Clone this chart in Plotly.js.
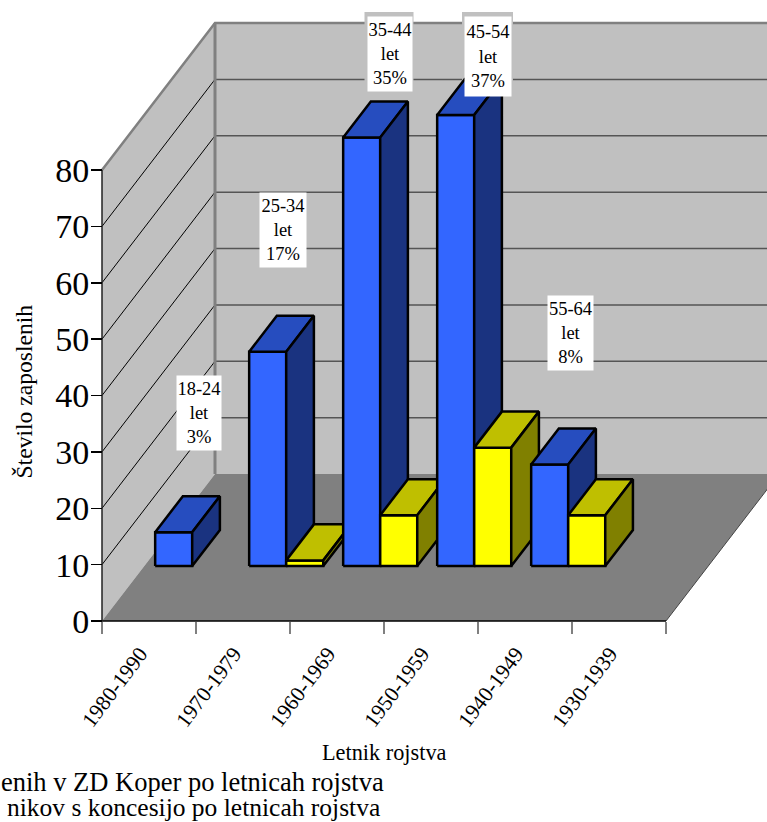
<!DOCTYPE html>
<html><head><meta charset="utf-8">
<script src="https://cdn.plot.ly/plotly-3.0.1.min.js"></script>
<style>html,body{margin:0;padding:0;background:#fff;overflow:hidden}</style>
</head><body><div id="chart" style="width:767px;height:822px"></div>
<script>
const categories = ['1980-1990','1970-1979','1960-1969','1950-1959','1940-1949','1930-1939'];
const staffZD = [6, 38, 76, 80, 18, 0];
const staffConcession = [0, 1, 9, 21, 9, 0];
const yTicks = [0,10,20,30,40,50,60,70,80];
const ageLabels = ['18-24<br>let<br>3%','25-34<br>let<br>17%','35-44<br>let<br>35%','45-54<br>let<br>37%','55-64<br>let<br>8%'];
const labelCentrePx = [[198.5,413],[283,230],[389.5,54],[488,56.5],[570.5,333]];
const labelSizePx = [[44,74],[46,74],[44,74],[46,79],[45,74]];
const legendLines = ['enih v ZD Koper po letnicah rojstva','nikov s koncesijo po letnicah rojstva'];
const legendEndPx = [385,380.5], legendSizes = [26.5,25.5], legendRowPx = [782,807.5];
const xTitle = 'Letnik rojstva', yTitle = 'Število zaposlenih';

// geometry of the oblique projection: origin at (102,621) px on a full-page plot area
const L=102,B=201,W=767,H=822;
const unitX=94, unitY=451/80;
const DX=113/unitX, DY=147/unitY;
const D0=0.374, D1=0.619, GAP=0.116, BW=0.394;
const pxX=p=>(p-L)/unitX, pxY=p=>(H-B-p)/unitY;
const pt=(c,v,d)=>[c+d*DX, v+d*DY];
const traces=[];
function poly(points,fill,lc,lw){
  const xs=points.map(p=>p[0]), ys=points.map(p=>p[1]);
  xs.push(xs[0]); ys.push(ys[0]);
  traces.push({type:'scatter',mode:'lines',x:xs,y:ys,fill:'toself',fillcolor:fill,
    line:{color:lc||fill,width:lw===undefined?0:lw,shape:'linear',simplify:false},cliponaxis:false,hoverinfo:'skip',showlegend:false});
}
function seg(points,lc,lw){
  traces.push({type:'scatter',mode:'lines',x:points.map(p=>p[0]),y:points.map(p=>p[1]),
    line:{color:lc,width:lw,simplify:false},cliponaxis:false,hoverinfo:'skip',showlegend:false});
}
// walls and floor
const yTop=yTicks[yTicks.length-1], n=categories.length;
poly([pt(0,0,0),pt(0,yTop,0),pt(0,yTop,1),pt(0,0,1)],'#c0c0c0');
poly([pt(0,0,1),pt(0,yTop,1),pt(n,yTop,1),pt(n,0,1)],'#c0c0c0');
poly([pt(0,0,0),pt(0,0,1),pt(n,0,1),pt(n,0,0)],'#808080');
yTicks.slice(1,-1).forEach(v=>{
  seg([pt(0,v,0),pt(0,v,1)],'#000',1);
  seg([pt(0,v,1),pt(n,v,1)],'#555',1.5);
});
seg([pt(0,yTop,0),pt(0,yTop,1),pt(n,yTop,1)],'#808080',2.5);
seg([pt(0,0,1),pt(0,yTop,1)],'#808080',3);
seg([pt(n,0,0),pt(n,0,1)],'#444',1);
seg([pt(0,0,0),pt(n,0,0)],'#000',1.5);
seg([pt(0,0,0),pt(0,yTop,0)],'#222',1.5);
// grey halos of the two top labels
[2,3].forEach(i=>{
  const [cx,cy]=labelCentrePx[i],[w,h]=labelSizePx[i];
  const x0=pxX(cx-w/2-3),x1=pxX(cx+w/2+2),y0=pxY(cy-h/2-5),y1=pxY(cy+h/2-4);
  poly([[x0,y0],[x1,y0],[x1,y1],[x0,y1]],'#c0c0c0');
});
// bars
function bar(c,off,v,front,topC,side){
  if(!v) return;
  const a=c+off,b=a+BW;
  poly([pt(a,0,D0),pt(a,v,D0),pt(b,v,D0),pt(b,0,D0)],front,'#000',2.5);
  poly([pt(a,v,D0),pt(a,v,D1),pt(b,v,D1),pt(b,v,D0)],topC,'#000',2.5);
  poly([pt(b,0,D0),pt(b,v,D0),pt(b,v,D1),pt(b,0,D1)],side,'#000',2.5);
}
categories.forEach((_,c)=>{
  bar(c,GAP,staffZD[c],'#3366ff','#264dbf','#1a3380');
  bar(c,GAP+BW,staffConcession[c],'#ffff00','#bfbf00','#808000');
});
const serif='"Liberation Serif","Times New Roman",serif';
const pageText=(text,px,py,size,extra)=>Object.assign({text,xref:'paper',yref:'paper',x:px/W,y:1-py/H,showarrow:false,
  xanchor:'center',yanchor:'middle',font:{family:serif,size,color:'#000'},borderpad:0},extra||{});
const annotations=ageLabels.map((t,i)=>({
  text:t,x:pxX(labelCentrePx[i][0]),y:pxY(labelCentrePx[i][1]),xref:'x',yref:'y',showarrow:false,
  width:labelSizePx[i][0],height:labelSizePx[i][1],bgcolor:'#fff',borderpad:0,
  font:{family:serif,size:18.5,color:'#000'},xanchor:'center',yanchor:'middle'}));
legendLines.forEach((t,i)=>annotations.push(pageText(t,legendEndPx[i],legendRowPx[i],legendSizes[i],{xanchor:'right'})));
annotations.push(pageText(xTitle,384,752,22.3));
annotations.push(pageText(yTitle,23.5,392,23.6,{textangle:-90}));
const layout={
  width:W,height:H,margin:{l:0,r:0,t:0,b:0,pad:0},paper_bgcolor:'#fff',plot_bgcolor:'rgba(0,0,0,0)',showlegend:false,
  xaxis:{type:'linear',range:[-L/unitX,(W-L)/unitX],anchor:'free',position:B/H,tickmode:'array',
    tickvals:categories.map((_,i)=>i+0.5),ticktext:categories,
    ticks:'',ticklen:0,tickangle:-53,showgrid:false,zeroline:false,showline:false,
    ticklabelstandoff:15,ticklabelshift:-9,
    tickfont:{family:serif,size:21.5,color:'#000'},
    minor:{tickmode:'array',tickvals:categories.map((_,i)=>i).concat([n]),ticks:'outside',ticklen:12,tickwidth:1.5,tickcolor:'#808080',showgrid:false}},
  yaxis:{type:'linear',range:[-B/unitY,(H-B)/unitY],anchor:'free',position:L/W,tickmode:'array',tickvals:yTicks,
    ticks:'outside',ticklen:11,tickwidth:1.5,tickcolor:'#000',ticklabelstandoff:-5,
    showgrid:false,zeroline:false,showline:false,
    tickfont:{family:serif,size:34,color:'#000'}},
  annotations
};
Plotly.newPlot('chart',traces,layout,{displayModeBar:false,staticPlot:true});
</script></body></html>
